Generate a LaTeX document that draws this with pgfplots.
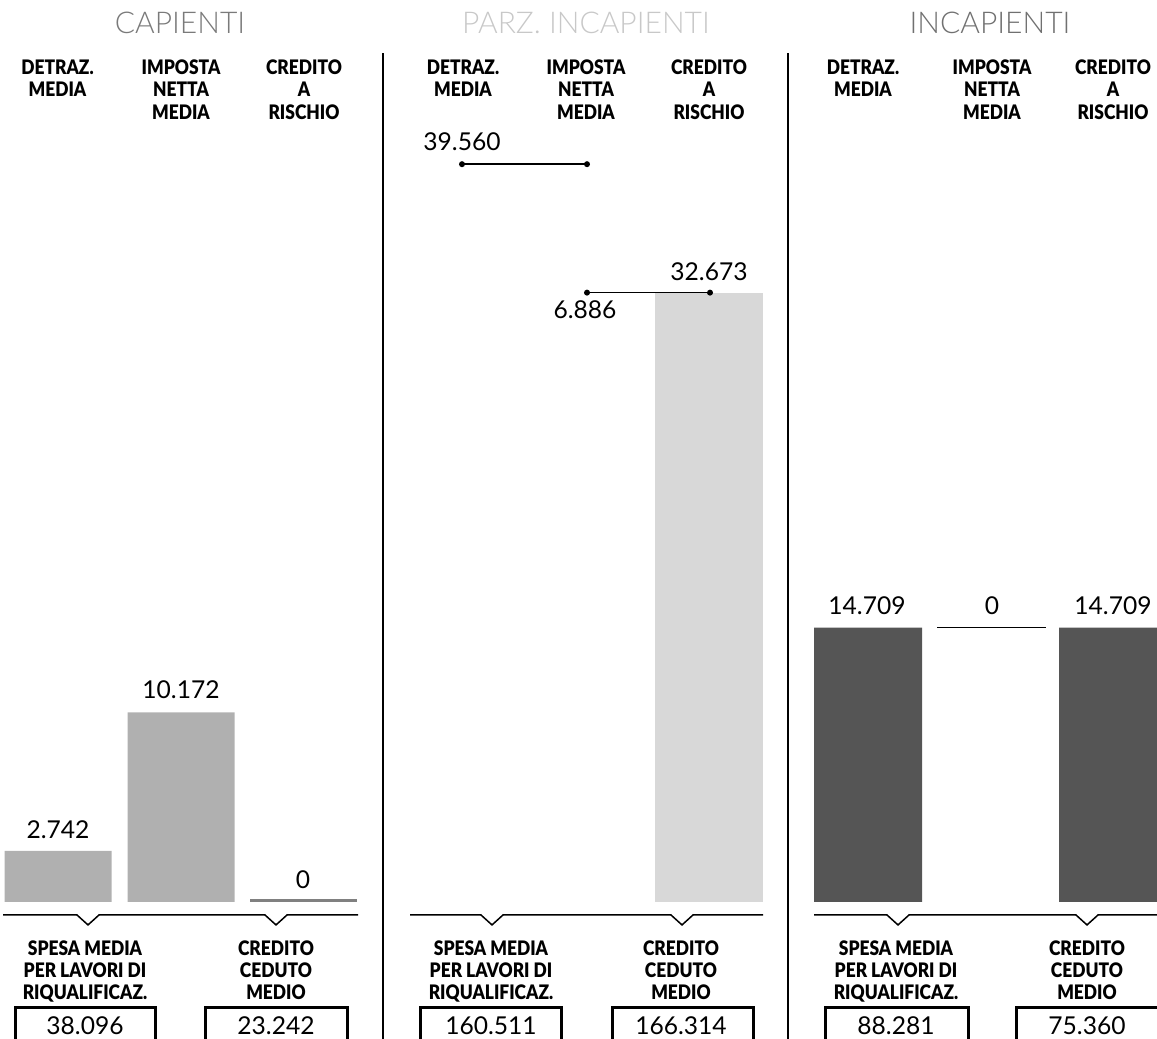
\documentclass[border=0pt]{standalone}
\usepackage{fontspec}
\setmainfont{Lato}
\newfontfamily\heavy{Lato Black}[FakeStretch=0.87]
\newfontfamily\thin{Lato Light}
\usepackage{pgfplots}
\pgfplotsset{compat=1.18}
\definecolor{capc}{HTML}{B0B0B0}
\definecolor{capdark}{HTML}{808080}
\definecolor{parc}{HTML}{D8D8D8}
\definecolor{incc}{HTML}{555555}
\definecolor{captit}{HTML}{7A7A7A}
\definecolor{partit}{HTML}{C8C8C8}
\definecolor{inctit}{HTML}{707070}
\tikzset{
  hdr/.style={font=\heavy\fontsize{10}{11.15}\selectfont, align=center, anchor=north, inner sep=0pt},
  num/.style={font=\fontsize{12.3}{14}\selectfont, anchor=center, inner sep=0pt},
  tit/.style={font=\thin\fontsize{15}{17}\selectfont, anchor=center, inner sep=0pt},
}
\newcommand\hdrDM{DETRAZ.\\MEDIA}
\newcommand\hdrIN{IMPOSTA\\NETTA\\MEDIA}
\newcommand\hdrCR{CREDITO\\A\\RISCHIO}
\newcommand\botS{SPESA MEDIA\\PER LAVORI DI\\RIQUALIFICAZ.}
\newcommand\botC{CREDITO\\CEDUTO\\MEDIO}
\begin{document}
\begin{tikzpicture}
\begin{axis}[scale only axis, width=578.5pt, height=519.5pt,
  xmin=0, xmax=1157, ymin=-7.346, ymax=48.365, hide axis, clip=true]

% ---- data: CAPIENTI
\addplot[ybar, bar width=107, bar shift=0pt, fill=capc, draw=none] coordinates {(58,2.742) (181,10.172)};
\addplot[draw=capdark, line width=1.5pt] coordinates {(250,0.08) (357,0.08)};
% ---- data: PARZ. INCAPIENTI
\addplot[ybar, bar width=108, bar shift=0pt, fill=parc, draw=none] coordinates {(709,32.673)};
\addplot[black, line width=0.75pt, mark=*, mark size=1.1pt] coordinates {(462,39.560) (587,39.560)};
\addplot[black, line width=0.75pt, mark=*, mark size=1.1pt] coordinates {(587,32.673) (710,32.673)};
% ---- data: INCAPIENTI
\addplot[ybar, bar width=108, bar shift=0pt, fill=incc, draw=none] coordinates {(868,14.709) (1113,14.709)};
\addplot[black, line width=0.75pt] coordinates {(937,14.709) (1046,14.709)};

% dividers
\draw[line width=1pt] (axis cs:383,45.52) -- (axis cs:383,-8);
\draw[line width=1pt] (axis cs:788,45.52) -- (axis cs:788,-8);

% titles
\node[tit, text=captit] at (axis cs:180,47.13) {CAPIENTI};
\node[tit, text=partit] at (axis cs:586,47.13) {PARZ. INCAPIENTI};
\node[tit, text=inctit] at (axis cs:990,47.13) {INCAPIENTI};

% headers
\node[hdr] at (axis cs:57.5,45.18) {\hdrDM};
\node[hdr] at (axis cs:181,45.18) {\hdrIN};
\node[hdr] at (axis cs:304,45.18) {\hdrCR};
\node[hdr] at (axis cs:463,45.18) {\hdrDM};
\node[hdr] at (axis cs:586,45.18) {\hdrIN};
\node[hdr] at (axis cs:709,45.18) {\hdrCR};
\node[hdr] at (axis cs:863,45.18) {\hdrDM};
\node[hdr] at (axis cs:992,45.18) {\hdrIN};
\node[hdr] at (axis cs:1113,45.18) {\hdrCR};

% value labels
\node[num] at (axis cs:58,3.86) {2.742};
\node[num] at (axis cs:181,11.37) {10.172};
\node[num] at (axis cs:303,1.18) {0};
\node[num] at (axis cs:462,40.78) {39.560};
\node[num] at (axis cs:709,33.78) {32.673};
\node[num] at (axis cs:585,31.74) {6.886};
\node[num] at (axis cs:867,15.87) {14.709};
\node[num] at (axis cs:992,15.87) {0};
\node[num] at (axis cs:1113,15.87) {14.709};

% bottom baselines with notches
\draw[line width=0.75pt] (axis cs:3,-0.697) -- (axis cs:77,-0.697) -- (axis cs:88,-1.23) -- (axis cs:99,-0.697) -- (axis cs:265,-0.697) -- (axis cs:276,-1.23) -- (axis cs:287,-0.697) -- (axis cs:358,-0.697);
\draw[line width=0.75pt] (axis cs:410,-0.697) -- (axis cs:481,-0.697) -- (axis cs:492,-1.23) -- (axis cs:503,-0.697) -- (axis cs:671,-0.697) -- (axis cs:682,-1.23) -- (axis cs:693,-0.697) -- (axis cs:763,-0.697);
\draw[line width=0.75pt] (axis cs:814,-0.697) -- (axis cs:887,-0.697) -- (axis cs:898,-1.23) -- (axis cs:909,-0.697) -- (axis cs:1076,-0.697) -- (axis cs:1087,-1.23) -- (axis cs:1098,-0.697) -- (axis cs:1160,-0.697);

% bottom labels
\node[hdr] at (axis cs:85,-2.04) {\botS};
\node[hdr] at (axis cs:276,-2.04) {\botC};
\node[hdr] at (axis cs:491,-2.04) {\botS};
\node[hdr] at (axis cs:681,-2.04) {\botC};
\node[hdr] at (axis cs:896,-2.04) {\botS};
\node[hdr] at (axis cs:1087,-2.04) {\botC};

% boxes
\draw[line width=1.5pt] (axis cs:15,-8) -- (axis cs:15,-5.68) -- (axis cs:155,-5.68) -- (axis cs:155,-8);
\draw[line width=1.5pt] (axis cs:205,-8) -- (axis cs:205,-5.68) -- (axis cs:347,-5.68) -- (axis cs:347,-8);
\draw[line width=1.5pt] (axis cs:420,-8) -- (axis cs:420,-5.68) -- (axis cs:561,-5.68) -- (axis cs:561,-8);
\draw[line width=1.5pt] (axis cs:612,-8) -- (axis cs:612,-5.68) -- (axis cs:753,-5.68) -- (axis cs:753,-8);
\draw[line width=1.5pt] (axis cs:825,-8) -- (axis cs:825,-5.68) -- (axis cs:968,-5.68) -- (axis cs:968,-8);
\draw[line width=1.5pt] (axis cs:1016,-8) -- (axis cs:1016,-5.68) -- (axis cs:1160,-5.68) -- (axis cs:1160,-8);
\node[num] at (axis cs:85,-6.62) {38.096};
\node[num] at (axis cs:276,-6.62) {23.242};
\node[num] at (axis cs:491,-6.62) {160.511};
\node[num] at (axis cs:681,-6.62) {166.314};
\node[num] at (axis cs:896,-6.62) {88.281};
\node[num] at (axis cs:1087,-6.62) {75.360};
\end{axis}
\pgfresetboundingbox
\useasboundingbox (current axis.south west) rectangle (current axis.north east);
\end{tikzpicture}
\end{document}
